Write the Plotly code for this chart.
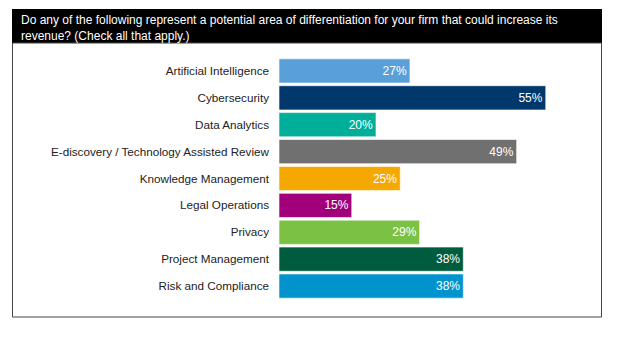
import plotly.graph_objects as go

categories = ["Artificial Intelligence", "Cybersecurity", "Data Analytics",
              "E-discovery / Technology Assisted Review", "Knowledge Management",
              "Legal Operations", "Privacy", "Project Management", "Risk and Compliance"]
values = [27, 55, 20, 49, 25, 15, 29, 38, 38]
colors = ["#5AA0D8", "#00386C", "#00AF9A", "#707070", "#F5A800",
          "#A2007A", "#7BC143", "#005C3E", "#0093CE"]
title_text = ("Do any of the following represent a potential area of differentiation for your firm that could increase its"
              "<br>revenue? (Check all that apply.)")

W, H = 630, 337
FONT = "Liberation Sans, Arial, sans-serif"

fig = go.Figure(go.Bar(
    x=values, y=categories, orientation="h",
    marker=dict(color=colors, line=dict(color="rgba(255,255,255,0.6)", width=1)),
    text=[f"{v}%" for v in values], textposition="inside", insidetextanchor="end",
    textfont=dict(color="white", size=12, family=FONT),
    hoverinfo="skip", cliponaxis=False,
))

x0 = 279 / W
x1 = 601 / W
fig.update_layout(
    width=W, height=H, margin=dict(l=0, r=0, t=0, b=0),
    paper_bgcolor="white", plot_bgcolor="white",
    showlegend=False, bargap=0.1,
    font=dict(family=FONT, size=12, color="#222222"),
    xaxis=dict(domain=[x0, x1], range=[0, 322 / 4.85], visible=False, fixedrange=True),
    yaxis=dict(domain=[1 - 299.5 / H, 1 - 57.5 / H], autorange="reversed",
               showline=False, showgrid=False, ticks="", ticklabelstandoff=9,
               tickfont=dict(size=11.7, family=FONT, color="#222222")),
    shapes=[
        dict(type="rect", xref="paper", yref="paper",
             x0=12 / W, x1=602 / W, y0=1 - 43 / H, y1=1 - 9 / H,
             fillcolor="black", line=dict(width=0), layer="below"),
        dict(type="rect", xref="paper", yref="paper",
             x0=12.5 / W, x1=601.5 / W, y0=1 - 317 / H, y1=1 - 43 / H,
             fillcolor="rgba(0,0,0,0)", line=dict(color="#444444", width=1)),
    ],
    annotations=[
        dict(text=title_text, xref="paper", yref="paper", x=19 / W, y=1 - 11 / H,
             xanchor="left", yanchor="top", align="left", showarrow=False,
             font=dict(color="white", size=12, family=FONT)),
    ],
)

fig.write_html("out.html")
